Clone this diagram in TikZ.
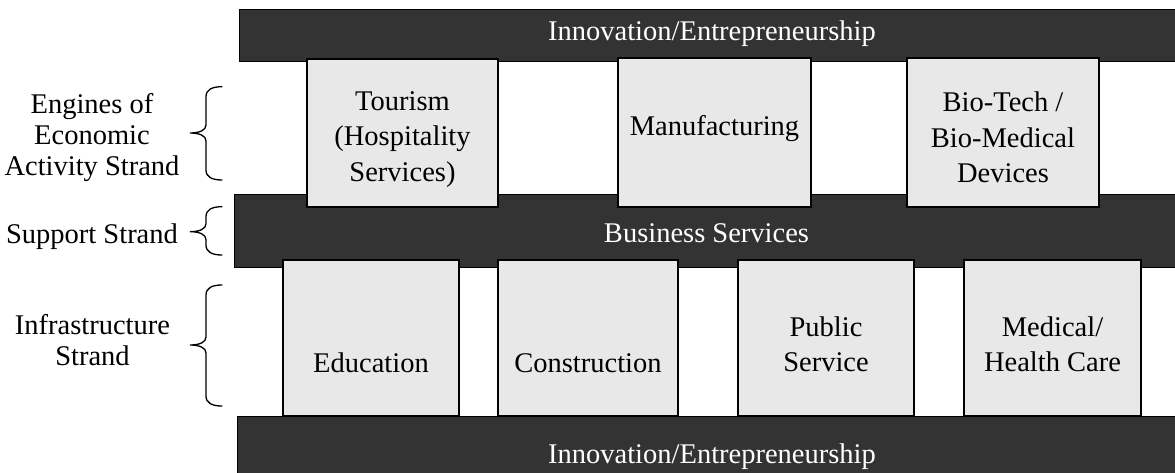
\documentclass[tikz,border=0pt]{standalone}
\usepackage{fontspec}
\setmainfont{Liberation Serif}
\definecolor{bardark}{HTML}{333333}
\definecolor{boxgray}{HTML}{E8E8E8}
\begin{document}
\begin{tikzpicture}[x=1pt,y=1pt,
	bar/.style={
		shape=rectangle,
		fill=bardark, draw=black,
		line width=1pt,
		inner sep=0pt},
	cell/.style={
		shape=rectangle,
		fill=boxgray, draw=black,
		line width=1.5pt,
		inner sep=0pt},
	txt/.style={
		inner sep=0pt,
		align=center,
		font=\fontsize{28.5}{35.5}\selectfont},
	side/.style={
		inner sep=0pt,
		align=center,
		font=\fontsize{28.5}{31}\selectfont},
	curly/.style={
		line width=1.3pt,
		line cap=round}]
	\clip (0,0) rectangle (1175,472);
	\node [bar,minimum width=946pt,minimum height=52pt] (i1) at (712,436) {};
	\node [bar,minimum width=945pt,minimum height=72pt] (bs) at (706.5,241) {};
	\node [bar,minimum width=950pt,minimum height=84pt] (i2) at (712,14) {};
	\node [cell,minimum width=191pt,minimum height=148pt] (e1) at (402.5,339) {};
	\node [cell,minimum width=193pt,minimum height=149pt] (e2) at (714.5,339.5) {};
	\node [cell,minimum width=192pt,minimum height=149pt] (e3) at (1003,339.5) {};
	\node [cell,minimum width=176pt,minimum height=156pt] (f1) at (371,134) {};
	\node [cell,minimum width=180pt,minimum height=156pt] (f2) at (588,134) {};
	\node [cell,minimum width=176pt,minimum height=156pt] (f3) at (826,134) {};
	\node [cell,minimum width=177pt,minimum height=156pt] (f4) at (1052.5,134) {};
	\node [txt,text=white] (t1) at (712,438.65) {Innovation/Entrepreneurship};
	\node [txt,text=white] (t2) at (706.5,238.75) {Business Services};
	\node [txt,text=white] (t3) at (712,15.65) {Innovation/Entrepreneurship};
	\node [txt] (te1) at (402.5,332.5) {Tourism\\(Hospitality\\Services)};
	\node [txt] (te2) at (714.5,343.65) {Manufacturing};
	\node [txt] (te3) at (1003,334.25) {Bio-Tech /\\Bio-Medical\\Devices};
	\node [txt] (tf1) at (371,109.25) {Education};
	\node [txt] (tf2) at (588,109.25) {Construction};
	\node [txt] (tf3) at (826,127.9) {Public\\Service};
	\node [txt] (tf4) at (1052.5,127.9) {Medical/\\Health Care};
	\node [side] (l1) at (92,334.5) {Engines of\\Economic\\Activity Strand};
	\node [side] (l2) at (92,235.3) {Support Strand};
	\node [side] (l3) at (92.5,131.75) {Infrastructure\\Strand};
	\foreach \t/\m/\b in {385.3/339/292, 265.3/240.3/217, 187/127/66}
		\draw [curly] (222,\t) .. controls (212,\t) and (206,\t-3) .. (206,\t-10)
			-- (206,\m+8) .. controls (206,\m+3) and (200,\m) .. (190,\m)
			.. controls (200,\m) and (206,\m-3) .. (206,\m-8)
			-- (206,\b+10) .. controls (206,\b+3) and (212,\b) .. (222,\b);
\end{tikzpicture}
\end{document}
